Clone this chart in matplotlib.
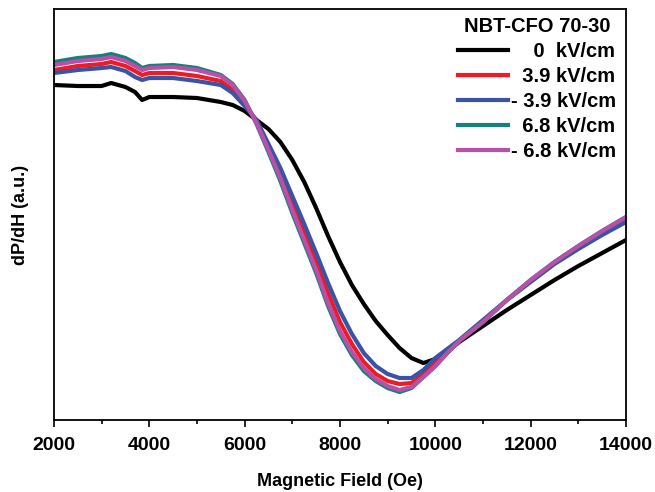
import matplotlib
matplotlib.use("Agg")
import matplotlib.pyplot as plt
from matplotlib.ticker import MultipleLocator

# magnetic field grid (Oe)
field = [2000, 2500, 3000, 3200, 3500, 3700, 3850, 4000, 4500, 5000, 5500, 5750,
         6000, 6250, 6500, 6750, 7000, 7250, 7500, 7750, 8000, 8250, 8500, 8750,
         9000, 9250, 9500, 9750, 10000, 10250, 10500, 11000, 11500, 12000,
         12500, 13000, 13500, 14000]

# dP/dH (a.u.)
sig_0 = [335, 334, 334, 337, 333, 328, 320, 323, 323, 322, 318, 315,
         309, 300, 291, 278, 260, 238, 212, 184, 158, 135, 116, 99,
         85, 72, 62, 57, 61, 68, 78, 94, 110, 125,
         140, 154, 167, 180]
sig_p39 = [350, 354, 356, 358, 354, 349, 345, 347, 347, 344, 339, 330,
           316, 299, 273, 247, 217, 188, 158, 127, 98, 76, 58, 46,
           39, 36, 37, 46, 57, 68, 79, 99, 120, 139,
           157, 173, 188, 201]
sig_m39 = [347, 350, 352, 353, 349, 343, 340, 342, 342, 339, 335, 327,
           314, 300, 276, 252, 224, 196, 167, 137, 109, 86, 67, 54,
           46, 42, 42, 50, 62, 71, 80, 100, 120, 138,
           156, 171, 185, 198]
sig_p68 = [358, 362, 364, 366, 362, 357, 352, 354, 355, 352, 345, 336,
           320, 296, 268, 239, 207, 177, 147, 114, 86, 65, 49, 39,
           32, 28, 32, 43, 54, 67, 79, 98, 120, 140,
           158, 174, 189, 203]
sig_m68 = [355, 359, 361, 363, 359, 354, 350, 352, 353, 350, 344, 335,
           319, 297, 270, 242, 210, 180, 150, 117, 89, 68, 52, 41,
           34, 30, 33, 43, 54, 67, 79, 98, 120, 140,
           158, 174, 189, 203]

labels = ["    0  kV/cm", "  3.9 kV/cm", "- 3.9 kV/cm", "  6.8 kV/cm", "- 6.8 kV/cm"]
colors = ["#000000", "#ed1c24", "#3a53a4", "#16807a", "#b84fa8"]

plt.rcParams["font.family"] = ["Liberation Sans", "DejaVu Sans"]
plt.rcParams["font.weight"] = "bold"

fig = plt.figure(figsize=(6.55, 4.92), dpi=100)
ax = fig.add_axes([0.0824, 0.1463, 0.8733, 0.8354])

for sig, c, lab in zip([sig_0, sig_p39, sig_m39, sig_p68, sig_m68], colors, labels):
    ax.plot(field, sig, color=c, lw=3, label=lab, solid_joinstyle="round")

ax.set_xlim(2000, 14000)
ax.set_ylim(0, 411)
ax.xaxis.set_major_locator(MultipleLocator(2000))
ax.xaxis.set_minor_locator(MultipleLocator(1000))
ax.tick_params(axis="x", which="major", direction="out", length=5, width=1.2,
               labelsize=14, pad=7)
ax.tick_params(axis="x", which="minor", direction="out", length=3, width=1.2)
ax.tick_params(axis="y", left=False, labelleft=False)
for s in ax.spines.values():
    s.set_linewidth(1.3)

ax.set_xlabel("Magnetic Field (Oe)", fontsize=13, fontweight="bold", labelpad=14)
ax.set_ylabel("dP/dH (a.u.)", fontsize=13, fontweight="bold", labelpad=18)

leg = ax.legend(loc="upper right", bbox_to_anchor=(0.997, 1.0), frameon=False,
                title="NBT-CFO 70-30", title_fontproperties={"weight": "bold", "size": 14.5},
                prop={"weight": "bold", "size": 14.5}, handlelength=2.5,
                handletextpad=0.15, labelspacing=0.3, borderaxespad=0.0)

fig.savefig("out.png", dpi=100)
